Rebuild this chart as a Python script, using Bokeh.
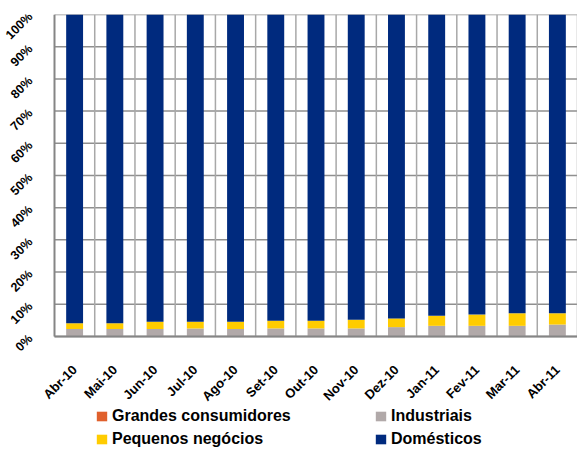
from bokeh.plotting import figure
from bokeh.models import ColumnDataSource, FixedTicker, Legend, LegendItem
from bokeh.embed import file_html
from bokeh.resources import INLINE
import math

# ---- data (percent of total) ----
months = ["Abr-10", "Mai-10", "Jun-10", "Jul-10", "Ago-10", "Set-10", "Out-10",
          "Nov-10", "Dez-10", "Jan-11", "Fev-11", "Mar-11", "Abr-11"]
grandes = [0.1, 0.1, 0.1, 0.1, 0.1, 0.1, 0.1, 0.1, 0.1, 0.1, 0.1, 0.1, 0.1]
industriais = [2.2, 2.2, 2.2, 2.4, 2.2, 2.4, 2.4, 2.4, 2.8, 3.2, 3.2, 3.2, 3.6]
pequenos = [1.8, 1.8, 2.3, 2.1, 2.3, 2.4, 2.4, 2.7, 2.7, 3.1, 3.5, 3.9, 3.5]
domesticos = [100 - g - i - p for g, i, p in zip(grandes, industriais, pequenos)]
y_ticks = [0, 10, 20, 30, 40, 50, 60, 70, 80, 90, 100]
y_labels = [f"{t}%" for t in y_ticks]

series = ["grandes", "industriais", "pequenos", "domesticos"]
names = ["Grandes consumidores", "Industriais", "Pequenos negócios", "Domésticos"]
colors = ["#E0602C", "#B1A9A9", "#FFCC00", "#002A7E"]

pos = list(range(len(months)))
src = ColumnDataSource(dict(x=pos, grandes=grandes, industriais=industriais,
                            pequenos=pequenos, domesticos=domesticos))

FONT = "Liberation Sans"
W, H = 577, 448
X0 = -0.5
X1 = len(months) - 0.5
UNIT = (W - 54) / (X1 - X0)          # px per category
X_LEFT = X0 - 54 / UNIT                # room left of the axis for y labels
Y_BOTTOM = -34.8                       # room below 0% for x labels and legend

p = figure(width=W, height=H, output_backend="svg", toolbar_location=None,
           x_range=(X_LEFT, X1), y_range=(Y_BOTTOM, 100),
           min_border_left=0, min_border_right=0, min_border_top=14,
           min_border_bottom=0)
p.outline_line_color = None
p.background_fill_color = "white"
p.xgrid.visible = False
p.ygrid.visible = False

# horizontal gridlines (0..100 only, inside the plot area)
p.segment(x0=[X0] * len(y_ticks), y0=y_ticks, x1=[X1] * len(y_ticks), y1=y_ticks,
          line_color="#8f8f8f", line_width=1.5)
# vertical separators between categories
bounds_x = [i + 0.5 for i in pos]
p.segment(x0=bounds_x, y0=[y_ticks[0]] * len(bounds_x), x1=bounds_x,
          y1=[y_ticks[-1]] * len(bounds_x), line_color="#a8a8a8", line_width=1.5)

renderers = p.vbar_stack(series, x="x", width=0.42, source=src, color=colors,
                         line_color=None)

# axes
p.xaxis.ticker = FixedTicker(ticks=pos)
p.xaxis.major_label_overrides = {i: m for i, m in zip(pos, months)}
p.xaxis.major_label_orientation = math.pi / 4
p.xaxis.fixed_location = 0
p.xaxis.bounds = (X0, X1)
p.yaxis.ticker = FixedTicker(ticks=y_ticks)
p.yaxis.major_label_overrides = {t: l for t, l in zip(y_ticks, y_labels)}
p.yaxis.major_label_orientation = math.pi / 4
p.yaxis.fixed_location = X0
p.yaxis.bounds = (0, 100)
for ax in (p.xaxis, p.yaxis):
    ax.axis_line_color = "#858585"
    ax.axis_line_width = 2
    ax.major_tick_line_color = None
    ax.minor_tick_line_color = None
    ax.major_label_text_font = FONT
    ax.major_label_text_font_style = "bold"
    ax.major_label_text_color = "black"
p.xaxis.major_label_text_font_size = "13px"
p.yaxis.major_label_text_font_size = "12.5px"
p.xaxis.major_label_standoff = 25
p.yaxis.major_label_standoff = 18

# legends (two columns)
def make_legend(idx, loc):
    lg = Legend(items=[LegendItem(label=names[i], renderers=[renderers[i]]) for i in idx],
                location=loc, orientation="vertical",
                glyph_width=13, glyph_height=12, label_standoff=4,
                label_height=19, spacing=4, padding=0, margin=0,
                border_line_color=None, background_fill_alpha=0,
                label_text_font=FONT, label_text_font_style="bold",
                label_text_font_size="16px", label_text_color="black")
    p.add_layout(lg, "center")

make_legend([0, 2], (95, 0))
make_legend([1, 3], (374, 0))

open("out.html", "w").write(file_html(p, INLINE))
